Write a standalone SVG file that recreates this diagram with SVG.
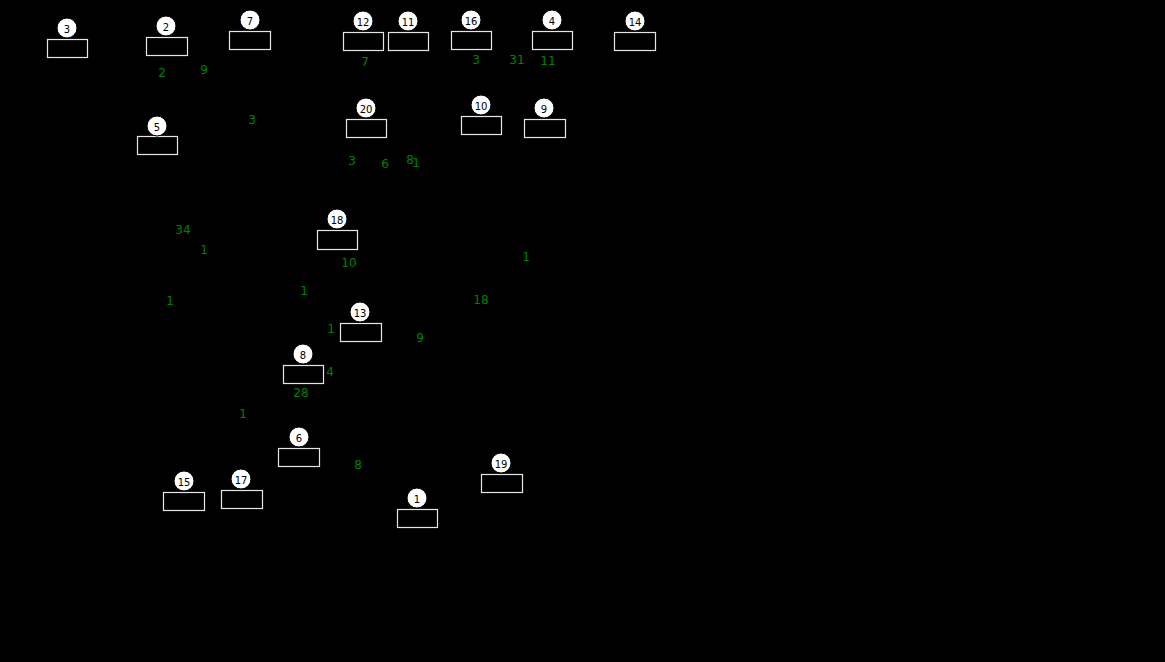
<svg xmlns="http://www.w3.org/2000/svg" width="1165" height="662" viewBox="0 0 1165 662">
<style>
.bg{fill:#000}
.box{fill:#000;stroke:#e6e6e6;stroke-width:1.2}
.dot{fill:#fff;stroke:#000;stroke-width:1}
.num{font-family:"DejaVu Sans",sans-serif;font-size:10px;fill:#000;text-anchor:middle;dominant-baseline:central}
.lbl{font-family:"DejaVu Sans",sans-serif;font-size:12px;fill:#008000;text-anchor:middle;dominant-baseline:central}
</style>
<rect class="bg" x="0" y="0" width="1165" height="662"/>
<g id="connectors">
<text class="lbl" x="162" y="73">2</text>
<text class="lbl" x="204" y="70">9</text>
<text class="lbl" x="252" y="120">3</text>
<text class="lbl" x="365" y="62">7</text>
<text class="lbl" x="476" y="60">3</text>
<text class="lbl" x="517" y="60">31</text>
<text class="lbl" x="548" y="61">11</text>
<text class="lbl" x="352" y="161">3</text>
<text class="lbl" x="385" y="164">6</text>
<text class="lbl" x="410" y="160">8</text>
<text class="lbl" x="416" y="163">1</text>
<text class="lbl" x="183" y="230">34</text>
<text class="lbl" x="204" y="250">1</text>
<text class="lbl" x="349" y="263">10</text>
<text class="lbl" x="526" y="257">1</text>
<text class="lbl" x="170" y="301">1</text>
<text class="lbl" x="304" y="291">1</text>
<text class="lbl" x="481" y="300">18</text>
<text class="lbl" x="331" y="329">1</text>
<text class="lbl" x="420" y="338">9</text>
<text class="lbl" x="330" y="372">4</text>
<text class="lbl" x="301" y="393">28</text>
<text class="lbl" x="243" y="414">1</text>
<text class="lbl" x="358" y="465">8</text>
</g>
<g id="node3"><rect class="box" x="47.5" y="39.5" width="40" height="18"/><circle class="dot" cx="67" cy="28" r="10"/><text class="num" x="67" y="29">3</text></g>
<g id="node2"><rect class="box" x="146.5" y="37.5" width="41" height="18"/><circle class="dot" cx="166" cy="26" r="10"/><text class="num" x="166" y="27">2</text></g>
<g id="node7"><rect class="box" x="229.5" y="31.5" width="41" height="18"/><circle class="dot" cx="250" cy="20" r="10"/><text class="num" x="250" y="21">7</text></g>
<g id="node12"><rect class="box" x="343.5" y="32.5" width="40" height="18"/><circle class="dot" cx="363" cy="21" r="10"/><text class="num" x="363" y="22">12</text></g>
<g id="node11"><rect class="box" x="388.5" y="32.5" width="40" height="18"/><circle class="dot" cx="408" cy="21" r="10"/><text class="num" x="408" y="22">11</text></g>
<g id="node16"><rect class="box" x="451.5" y="31.5" width="40" height="18"/><circle class="dot" cx="471" cy="20" r="10"/><text class="num" x="471" y="21">16</text></g>
<g id="node4"><rect class="box" x="532.5" y="31.5" width="40" height="18"/><circle class="dot" cx="552" cy="20" r="10"/><text class="num" x="552" y="21">4</text></g>
<g id="node14"><rect class="box" x="614.5" y="32.5" width="41" height="18"/><circle class="dot" cx="635" cy="21" r="10"/><text class="num" x="635" y="22">14</text></g>
<g id="node5"><rect class="box" x="137.5" y="136.5" width="40" height="18"/><circle class="dot" cx="157" cy="126" r="10"/><text class="num" x="157" y="127">5</text></g>
<g id="node20"><rect class="box" x="346.5" y="119.5" width="40" height="18"/><circle class="dot" cx="366" cy="108" r="10"/><text class="num" x="366" y="109">20</text></g>
<g id="node10"><rect class="box" x="461.5" y="116.5" width="40" height="18"/><circle class="dot" cx="481" cy="105" r="10"/><text class="num" x="481" y="106">10</text></g>
<g id="node9"><rect class="box" x="524.5" y="119.5" width="41" height="18"/><circle class="dot" cx="544" cy="108" r="10"/><text class="num" x="544" y="109">9</text></g>
<g id="node18"><rect class="box" x="317.5" y="230.5" width="40" height="19"/><circle class="dot" cx="337" cy="219" r="10"/><text class="num" x="337" y="220">18</text></g>
<g id="node13"><rect class="box" x="340.5" y="323.5" width="41" height="18"/><circle class="dot" cx="360" cy="312" r="10"/><text class="num" x="360" y="313">13</text></g>
<g id="node8"><rect class="box" x="283.5" y="365.5" width="40" height="18"/><circle class="dot" cx="303" cy="354" r="10"/><text class="num" x="303" y="355">8</text></g>
<g id="node6"><rect class="box" x="278.5" y="448.5" width="41" height="18"/><circle class="dot" cx="299" cy="437" r="10"/><text class="num" x="299" y="438">6</text></g>
<g id="node15"><rect class="box" x="163.5" y="492.5" width="41" height="18"/><circle class="dot" cx="184" cy="481" r="10"/><text class="num" x="184" y="482">15</text></g>
<g id="node17"><rect class="box" x="221.5" y="490.5" width="41" height="18"/><circle class="dot" cx="241" cy="479" r="10"/><text class="num" x="241" y="480">17</text></g>
<g id="node19"><rect class="box" x="481.5" y="474.5" width="41" height="18"/><circle class="dot" cx="501" cy="463" r="10"/><text class="num" x="501" y="464">19</text></g>
<g id="node1"><rect class="box" x="397.5" y="509.5" width="40" height="18"/><circle class="dot" cx="417" cy="498" r="10"/><text class="num" x="417" y="499">1</text></g>
</svg>
